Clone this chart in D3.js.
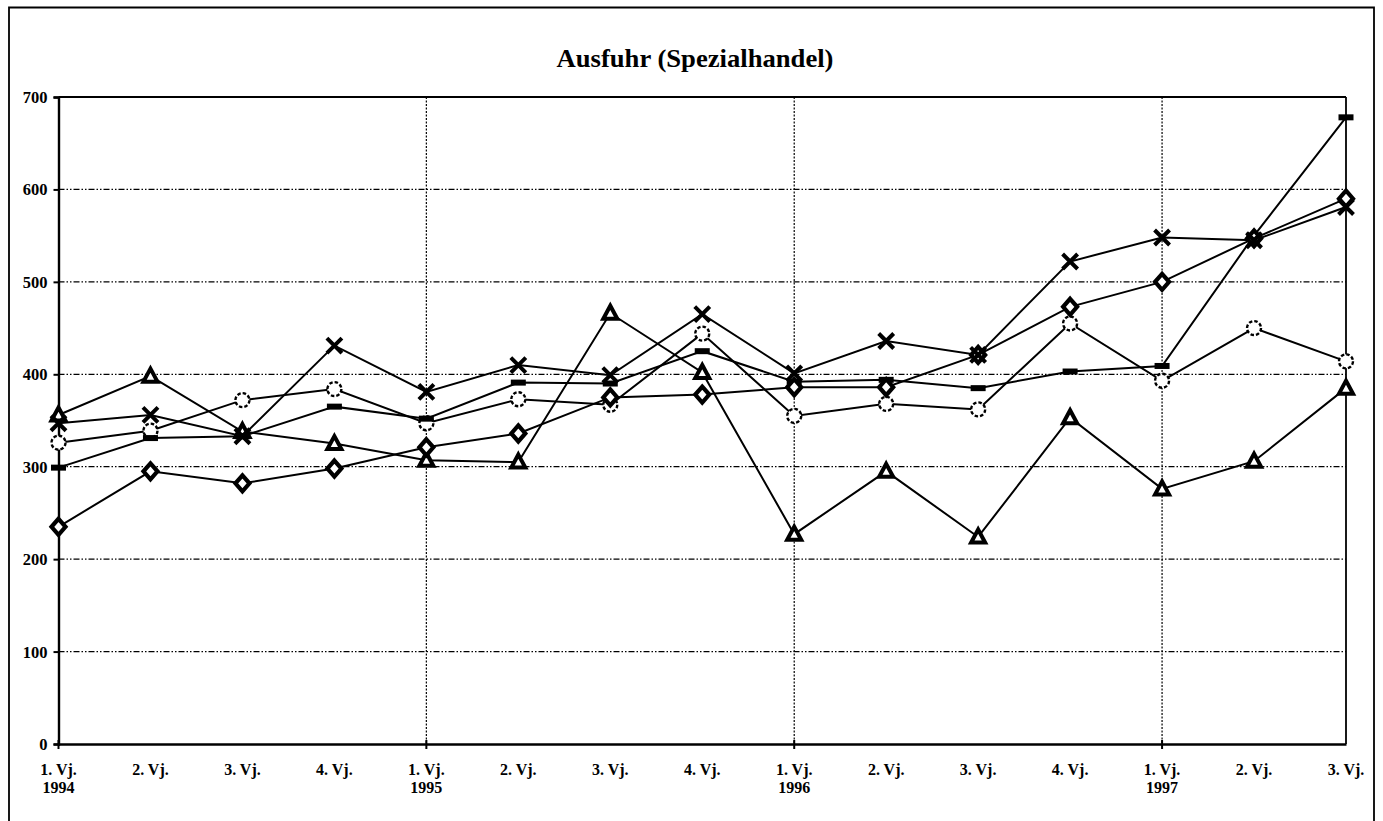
<!DOCTYPE html>
<html>
<head>
<meta charset="utf-8">
<script src="https://cdn.jsdelivr.net/npm/d3@7"></script>
<style>
html,body{margin:0;padding:0;background:#fff;}
svg{display:block;}
text{font-family:"Liberation Serif","Times New Roman",serif;font-weight:bold;fill:#000;}
</style>
</head>
<body>
<svg id="chart" width="1383" height="821"></svg>
<script>
// ---- data ----
const quarters = ["1. Vj.","2. Vj.","3. Vj.","4. Vj.","1. Vj.","2. Vj.","3. Vj.","4. Vj.","1. Vj.","2. Vj.","3. Vj.","4. Vj.","1. Vj.","2. Vj.","3. Vj."];
const years    = ["1994","","","","1995","","","","1996","","","","1997","",""];
const yTicks   = [0,100,200,300,400,500,600,700];
const title    = "Ausfuhr (Spezialhandel)";

const seriesTriangle = [356,398,338,325,307,305,466,402,227,295,224,353,276,306,385];
const seriesCross    = [347,356,333,431,381,410,399,465,401,436,421,522,548,545,581];
const seriesCircle   = [326,339,372,384,347,373,367,444,355,368,362,455,393,450,414];
const seriesDash     = [299,331,333,365,352,391,390,425,392,394,385,403,409,550,678];
const seriesDiamond  = [235,295,282,298,321,336,375,378,386,386,421,473,500,547,590];

const series = [
  {name:"triangle", values:seriesTriangle},
  {name:"circle",   values:seriesCircle},
  {name:"dash",     values:seriesDash},
  {name:"diamond",  values:seriesDiamond},
  {name:"cross",    values:seriesCross}
];

// ---- layout ----
const svg = d3.select("#chart");
const L = 58.5, R = 1346, T = 97, B = 744;
const idx = d3.range(quarters.length);
const x = d3.scalePoint().domain(idx).range([L, R]);
const y = d3.scaleLinear().domain([0,700]).range([B, T]);

// outer frame
svg.append("path")
  .attr("d", `M9,830 L9,7.5 L1374,7.5 L1374,830`)
  .attr("fill","none").attr("stroke","#000").attr("stroke-width",1.8);

// title
svg.append("text")
  .attr("x", 695).attr("y", 67)
  .attr("text-anchor","middle")
  .attr("font-size", 26)
  .attr("textLength", 277).attr("lengthAdjust","spacingAndGlyphs")
  .text(title);

// horizontal gridlines
svg.append("g").selectAll("line")
  .data(yTicks.filter(v => v > 0 && v < 700))
  .join("line")
  .attr("x1", L).attr("x2", R)
  .attr("y1", d => y(d)).attr("y2", d => y(d))
  .attr("stroke","#000").attr("stroke-width",1.2)
  .attr("stroke-dasharray","6,2,1.5,2,1.5,2");

// vertical gridlines at year starts
svg.append("g").selectAll("line")
  .data(idx.filter(i => years[i] !== "" && i > 0))
  .join("line")
  .attr("x1", d => x(d)).attr("x2", d => x(d))
  .attr("y1", T).attr("y2", B)
  .attr("stroke","#000").attr("stroke-width",1.2)
  .attr("stroke-dasharray","2,1.5");

// plot frame: top and right
svg.append("line").attr("x1",L).attr("x2",R).attr("y1",T).attr("y2",T)
  .attr("stroke","#000").attr("stroke-width",2.2);
svg.append("line").attr("x1",R).attr("x2",R).attr("y1",T).attr("y2",B)
  .attr("stroke","#000").attr("stroke-width",1.8);

// y axis
const yAxis = d3.axisLeft(y).tickValues(yTicks).tickSize(5).tickPadding(6).tickFormat(d3.format("d"));
const gy = svg.append("g").attr("transform",`translate(${L},0)`).call(yAxis);
gy.select(".domain").attr("stroke-width",2.4);
gy.selectAll(".tick line").attr("stroke-width",2);
gy.selectAll(".tick text").style("font-size","16.5px").attr("dy","0.33em");

// x axis
const xAxis = d3.axisBottom(x).tickSize(0).tickPadding(0).tickFormat(() => "");
const gx = svg.append("g").attr("transform",`translate(0,${B})`).call(xAxis);
gx.select(".domain").attr("stroke-width",2.4);
// year tick marks
svg.append("g").selectAll("line")
  .data(idx.filter(i => years[i] !== ""))
  .join("line")
  .attr("x1", d => x(d)).attr("x2", d => x(d))
  .attr("y1", B - 4).attr("y2", B + 5)
  .attr("stroke","#000").attr("stroke-width",2);
// x labels
const xl = svg.append("g");
xl.selectAll("text.q").data(idx).join("text").attr("class","q")
  .attr("x", d => x(d)).attr("y", 775)
  .attr("text-anchor","middle").style("font-size","16px")
  .text(d => quarters[d]);
xl.selectAll("text.yr").data(idx.filter(i => years[i] !== "")).join("text").attr("class","yr")
  .attr("x", d => x(d)).attr("y", 793)
  .attr("text-anchor","middle").style("font-size","16px")
  .text(d => years[d]);

// lines
const line = d3.line().x((d,i) => x(i)).y(d => y(d));
svg.append("g").selectAll("path")
  .data(series).join("path")
  .attr("d", d => line(d.values))
  .attr("fill","none").attr("stroke","#000").attr("stroke-width",2);

// markers
function drawMarker(g, type) {
  if (type === "triangle") {
    g.append("path").attr("d","M0,-7.5 L7,5.5 L-7,5.5 Z")
      .attr("fill","#fff").attr("stroke","#000").attr("stroke-width",4).attr("stroke-linejoin","miter");
  } else if (type === "cross") {
    g.append("path").attr("d","M-7.5,-7.5 L7.5,7.5 M-7.5,7.5 L7.5,-7.5")
      .attr("fill","none").attr("stroke","#000").attr("stroke-width",4);
  } else if (type === "circle") {
    g.append("circle").attr("r",7)
      .attr("fill","#fff").attr("stroke","#000").attr("stroke-width",2.4)
      .attr("stroke-dasharray","3.5,2");
  } else if (type === "dash") {
    g.append("rect").attr("x",-7.5).attr("y",-3).attr("width",15).attr("height",6).attr("fill","#000");
  } else if (type === "diamond") {
    g.append("path").attr("d","M0,-8 L7,0 L0,8 L-7,0 Z")
      .attr("fill","#fff").attr("stroke","#000").attr("stroke-width",4.2);
  }
}
series.forEach(s => {
  const g = svg.append("g");
  s.values.forEach((v,i) => {
    const m = g.append("g").attr("transform",`translate(${x(i)},${y(v)})`);
    drawMarker(m, s.name);
  });
});
</script>
</body>
</html>
